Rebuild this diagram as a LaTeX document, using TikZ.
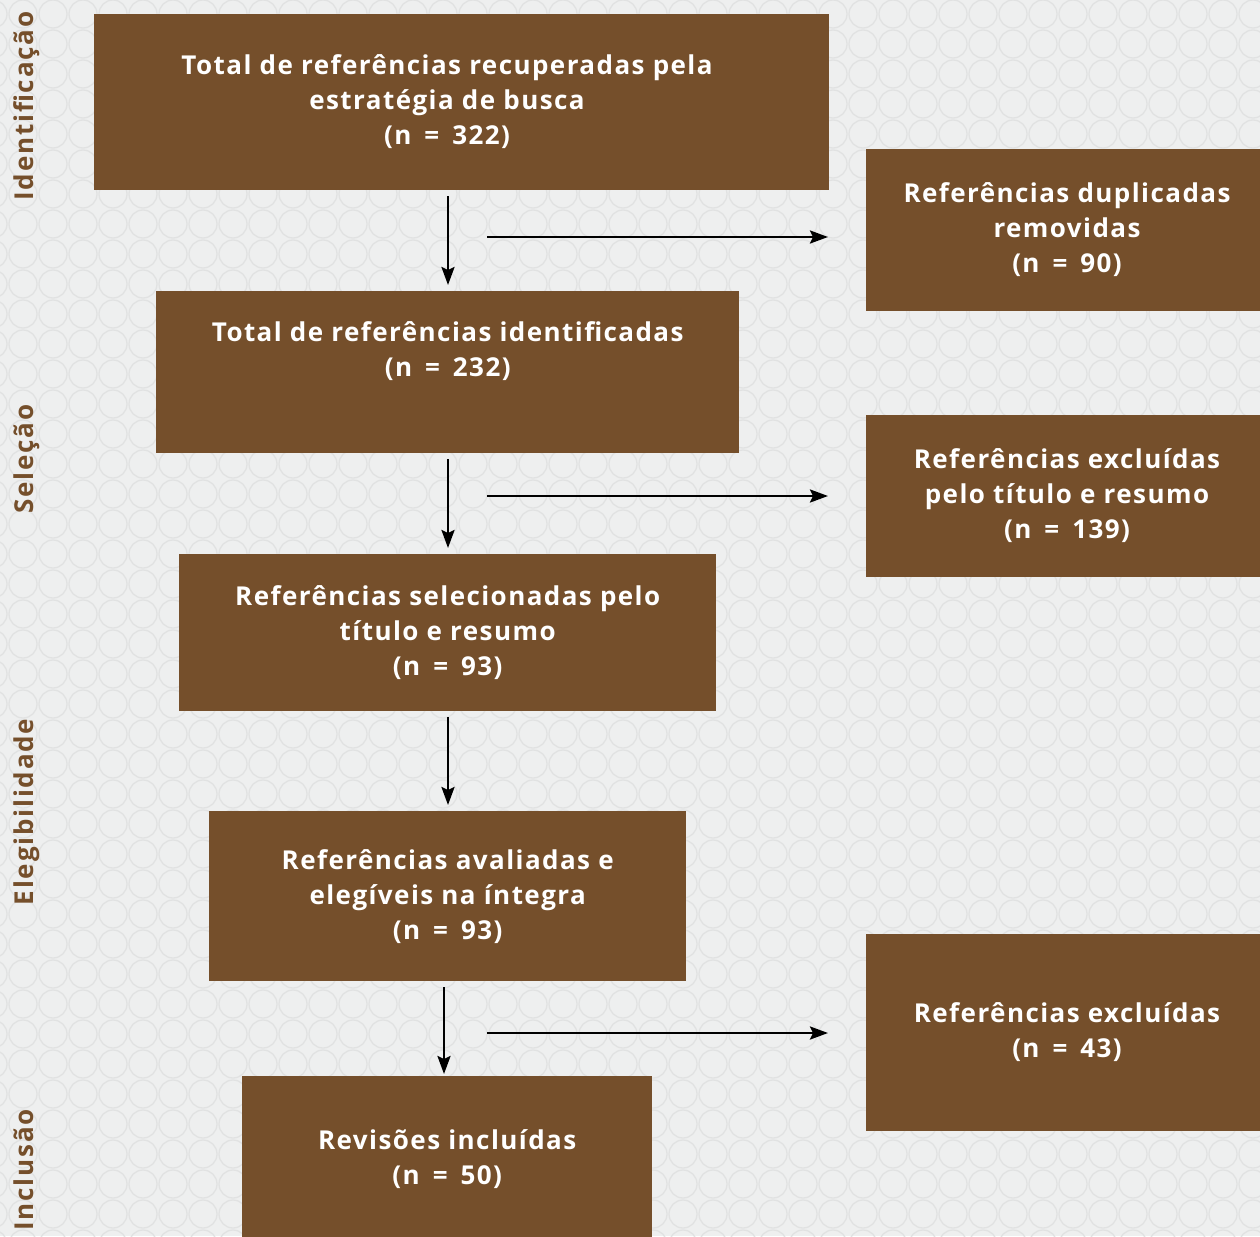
\documentclass[tikz,border=0pt]{standalone}
\usepackage{fontspec}
\setmainfont{Open Sans}
\newfontfamily\boxfont[LetterSpace=5.5]{Open Sans}
\newfontfamily\labfont[LetterSpace=7]{Open Sans}
\newcommand{\eqsp}{\enspace=\enspace}
\usetikzlibrary{arrows.meta}
\definecolor{boxbrown}{RGB}{117,79,43}
\definecolor{bgcol}{RGB}{238,239,239}
\definecolor{circcol}{RGB}{225,226,226}
\tikzset{
  flowbox/.style={fill=boxbrown, draw=none, text=white, align=center, inner sep=0pt,
    font=\boxfont\fontsize{26}{35}\selectfont\bfseries},
  phaselabel/.style={rotate=90, anchor=base, text=boxbrown, inner sep=0pt,
    font=\labfont\fontsize{26}{30}\selectfont\bfseries},
  flowarrow/.style={line width=2.6pt, -{Stealth[length=18pt,width=13pt,inset=3pt]}}
}
\begin{document}
\begin{tikzpicture}[x=1pt,y=-1pt]
\useasboundingbox (0,0) rectangle (1260,1236);
\fill[bgcol] (0,0) rectangle (1260,1236);
\begin{scope}
\clip (0,0) rectangle (1260,1236);
\foreach \i in {0,...,42} {
  \foreach \j in {0,...,41} {
    \draw[circcol, line width=1.3pt] (23+30*\i-30, 14+30*\j) circle[radius=14];
  }
}
\end{scope}

% boxes
\node[flowbox, minimum width=735, minimum height=176, anchor=north west] (A) at (94,14) {};
\node[flowbox] (At) at (447,102)
  {Total de referências recuperadas pela\\estratégia de busca\\(n\eqsp 322)};
\node[flowbox, minimum width=394, minimum height=162, anchor=north west] (B) at (866,149) {};
\node[flowbox] (Bt) at (1067,230)
  {Referências duplicadas\\removidas\\(n\eqsp 90)};
\node[flowbox, minimum width=583, minimum height=162, anchor=north west] (C) at (156,291)
  {Total de referências identificadas\\(n\eqsp 232)\\\strut};
\node[flowbox, minimum width=394, minimum height=162, anchor=north west] (D) at (866,415) {};
\node[flowbox] (Dt) at (1067,496)
  {Referências excluídas\\pelo título e resumo\\(n\eqsp 139)};
\node[flowbox, minimum width=537, minimum height=157, anchor=north west] (E) at (179,554)
  {Referências selecionadas pelo\\título e resumo\\(n\eqsp 93)};
\node[flowbox, minimum width=477, minimum height=170, anchor=north west] (F) at (209,811)
  {Referências avaliadas e\\elegíveis na íntegra\\(n\eqsp 93)};
\node[flowbox, minimum width=394, minimum height=197, anchor=north west] (G) at (866,934) {};
\node[flowbox] (Gt) at (1067,1032)
  {Referências excluídas\\(n\eqsp 43)};
\node[flowbox, minimum width=410, minimum height=165, anchor=north west] (H) at (242,1076)
  {Revisões incluídas\\(n\eqsp 50)};

% phase labels
\node[phaselabel] (p1) at (33,106) {Identificação};
\node[phaselabel] (p2) at (33,459) {Seleção};
\node[phaselabel] (p3) at (33,812) {Elegibilidade};
\node[phaselabel] (p4) at (33,1170) {Inclusão};

% vertical arrows
\draw[flowarrow, shorten <=6pt, shorten >=6pt] (448,0 |- A.south) -- (448,0 |- C.north);
\draw[flowarrow, shorten <=6pt, shorten >=6pt] (448,0 |- C.south) -- (448,0 |- E.north);
\draw[flowarrow, shorten <=6pt, shorten >=6pt] (448,0 |- E.south) -- (448,0 |- F.north);
\draw[flowarrow, shorten <=6pt, shorten >=2pt] (444,0 |- F.south) -- (444,0 |- H.north);

% horizontal arrows
\coordinate (s1) at (487,237);
\coordinate (s2) at (487,496);
\coordinate (s3) at (487,1033);
\draw[flowarrow, shorten >=38pt] (s1) -- (s1 -| B.west);
\draw[flowarrow, shorten >=38pt] (s2) -- (s2 -| D.west);
\draw[flowarrow, shorten >=38pt] (s3) -- (s3 -| G.west);
\end{tikzpicture}
\end{document}
